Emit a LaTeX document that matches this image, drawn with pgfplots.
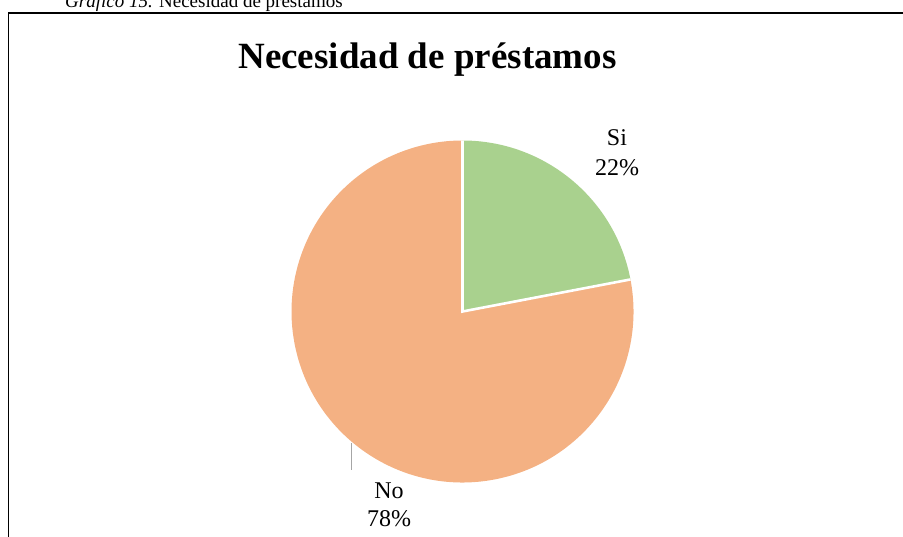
\documentclass[border=0pt]{standalone}
\usepackage{fontspec}
\setmainfont{Liberation Serif}
\usepackage{pgfplots}
\pgfplotsset{compat=1.18}
\usepackage{pgfplotstable}

\definecolor{siGreen}{HTML}{A9D18E}
\definecolor{noOrange}{HTML}{F4B183}
\definecolor{leader}{HTML}{A6A6A6}

% share of answers (percent)
\pgfplotstableread{
label value
Si    22
No    78
}\prestamos

\begin{document}
\begin{tikzpicture}
  \useasboundingbox (0,0) rectangle (903pt,537pt);
  \clip (0,0) rectangle (903pt,537pt);
  \begin{axis}[
    at={(0,0)}, anchor=south west,
    scale only axis,
    width=903pt, height=537pt,
    xmin=0, xmax=903, ymin=0, ymax=537,
    hide axis, clip=false,
  ]
    \pgfplotstablegetelem{0}{value}\of\prestamos \let\vSi\pgfplotsretval
    \pgfplotstablegetelem{1}{value}\of\prestamos \let\vNo\pgfplotsretval
    \pgfmathsetmacro\aSi{90-3.6*\vSi}
    \pgfmathsetmacro\aNo{\aSi-3.6*\vNo}
    \pgfmathsetmacro\rx{462.5+171*cos(\aSi)}
    \pgfmathsetmacro\ry{225.5+171*sin(\aSi)}

    % slices
    \fill[siGreen] (axis cs:462.5,225.5) -- (axis cs:462.5,396.5)
      arc[start angle=90, end angle=\aSi, radius=171pt] -- cycle;
    \fill[noOrange] (axis cs:462.5,225.5) -- (axis cs:\rx,\ry)
      arc[start angle=\aSi, end angle=\aNo, radius=171pt] -- cycle;
    \draw[white, line width=2.6pt] (axis cs:462.5,396.5) -- (axis cs:462.5,225.5) -- (axis cs:\rx,\ry);

    % frame and caption
    \draw[line width=1.6pt] (axis cs:8.5,-5) -- (axis cs:8.5,524) -- (axis cs:910,524);
    \node[anchor=base west, inner sep=0pt, font=\fontsize{19}{22}\selectfont]
      at (axis cs:65,529) {\textit{Gráfico 15.} Necesidad de préstamos};

    % title
    \node[anchor=base, inner sep=0pt, font=\fontsize{37}{44}\selectfont\bfseries]
      at (axis cs:427.5,468) {Necesidad de préstamos};

    % data labels
    \node[anchor=base, inner sep=0pt, font=\fontsize{24}{30}\selectfont] at (axis cs:617,391) {Si};
    \node[anchor=base, inner sep=0pt, font=\fontsize{24}{30}\selectfont] at (axis cs:617,361) {\vSi\%};
    \node[anchor=base, inner sep=0pt, font=\fontsize{24}{30}\selectfont] at (axis cs:389,38) {No};
    \node[anchor=base, inner sep=0pt, font=\fontsize{24}{30}\selectfont] at (axis cs:389,10) {\vNo\%};
    \draw[leader, line width=1.2pt] (axis cs:351.7,94) -- (axis cs:351.7,67);
  \end{axis}
\end{tikzpicture}
\end{document}
